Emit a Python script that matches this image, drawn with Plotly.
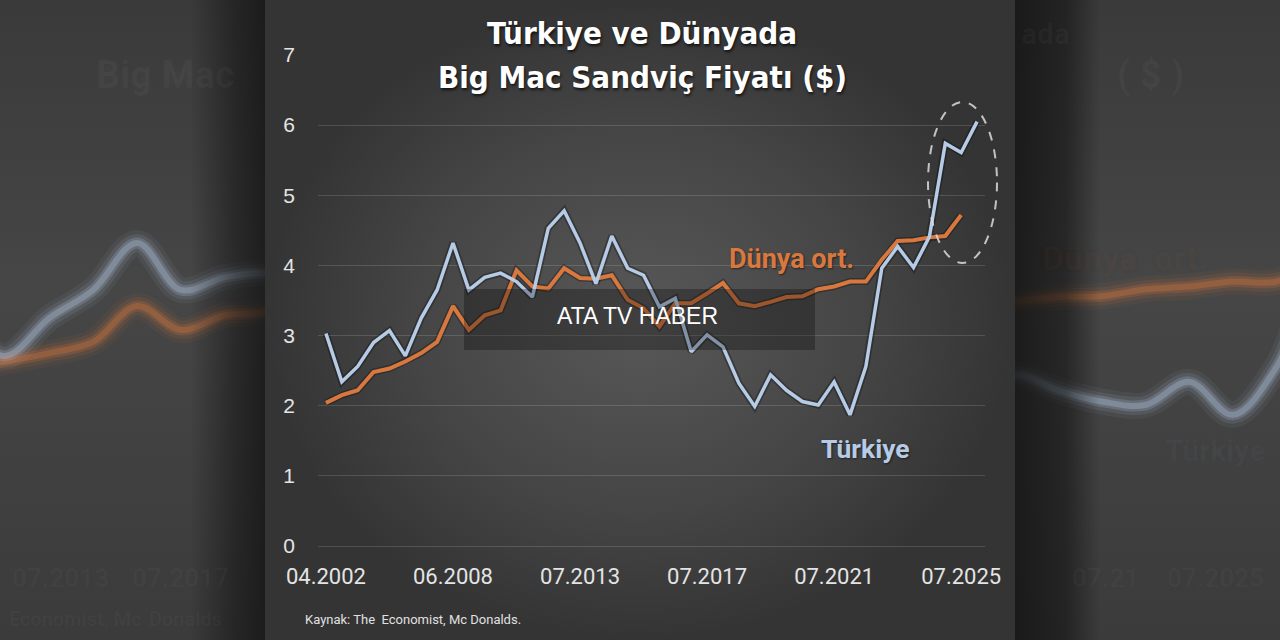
import plotly.graph_objects as go

# ---------------- data ----------------
dates = ["04.2002", "04.2003", "05.2004", "06.2005", "01.2006", "05.2006", "01.2007", "06.2007",
         "06.2008", "07.2009", "01.2010", "07.2010", "07.2011", "01.2012", "07.2012", "01.2013",
         "07.2013", "01.2014", "07.2014", "01.2015", "07.2015", "01.2016", "07.2016", "01.2017",
         "07.2017", "01.2018", "07.2018", "01.2019", "07.2019", "01.2020", "07.2020", "01.2021",
         "07.2021", "01.2022", "07.2022", "01.2023", "07.2023", "01.2024", "07.2024", "01.2025",
         "07.2025", "01.2026"]
turkiye = [3.03, 2.34, 2.56, 2.90, 3.07, 2.71, 3.25, 3.65, 4.32, 3.65, 3.83, 3.89, 3.77, 3.55,
           4.53, 4.78, 4.32, 3.74, 4.42, 3.96, 3.86, 3.41, 3.53, 2.77, 3.01, 2.84, 2.32, 1.99,
           2.44, 2.22, 2.06, 2.01, 2.34, 1.87, 2.56, 3.96, 4.27, 3.97, 4.41, 5.74, 5.61, 6.05]
dunya = [2.04, 2.15, 2.22, 2.48, 2.53, 2.63, 2.75, 2.91, 3.42, 3.08, 3.29, 3.36, 3.93, 3.70,
         3.67, 3.96, 3.82, 3.81, 3.86, 3.51, 3.39, 3.13, 3.46, 3.46, 3.60, 3.75, 3.46, 3.42,
         3.48, 3.55, 3.56, 3.66, 3.70, 3.77, 3.77, 4.08, 4.35, 4.36, 4.40, 4.42, 4.72, None]
tick_labels = ["04.2002", "06.2008", "07.2013", "07.2017", "07.2021", "07.2025"]
y_ticks = [0, 1, 2, 3, 4, 5, 6, 7]

BLUE = "#b5cbe6"
ORANGE = "#d8783f"

W, H = 1280, 640
fig = go.Figure()


def px_axes(xname, yname):
    return (dict(domain=[0, 1], range=[0, W], visible=False, fixedrange=True, anchor=yname, automargin=False),
            dict(domain=[0, 1], range=[H, 0], visible=False, fixedrange=True, anchor=xname, automargin=False))


# ---- subplot 1: backdrop base (pixel coords) ----
fig.add_trace(go.Scatter(x=[0, 1280, 1280, 0, 0], y=[0, 0, 640, 640, 0], mode="lines",
                         line=dict(width=0), fill="toself",
                         fillgradient=dict(type="vertical", colorscale=[[0, "#3b3b3b"], [0.55, "#464646"], [1, "#3a3a3a"]]),
                         hoverinfo="skip", showlegend=False, xaxis="x", yaxis="y"))

# ---- subplot 2: blurred, stretched copy of the chart behind ----
for w, op in [(26, 0.06), (18, 0.10), (11, 0.2), (6, 0.3)]:
    fig.add_trace(go.Scatter(x=dates, y=dunya, mode="lines", line=dict(color=ORANGE, width=w, shape="spline", smoothing=1.0),
                             opacity=op, hoverinfo="skip", showlegend=False, xaxis="x2", yaxis="y2"))
    fig.add_trace(go.Scatter(x=dates, y=turkiye, mode="lines", line=dict(color=BLUE, width=w, shape="spline", smoothing=1.0),
                             opacity=op, hoverinfo="skip", showlegend=False, xaxis="x2", yaxis="y2"))

# ---- subplot 3: dark bands + central panel (pixel coords) ----
fig.add_trace(go.Scatter(x=[190, 265, 265, 190, 190], y=[0, 0, 640, 640, 0], mode="lines", line=dict(width=0),
                         fill="toself",
                         fillgradient=dict(type="horizontal", colorscale=[[0, "rgba(20,20,20,0)"], [0.6, "rgba(20,20,20,0.55)"], [1, "rgba(20,20,20,0.8)"]]),
                         hoverinfo="skip", showlegend=False, xaxis="x3", yaxis="y3"))
fig.add_trace(go.Scatter(x=[1015, 1100, 1100, 1015, 1015], y=[0, 0, 640, 640, 0], mode="lines", line=dict(width=0),
                         fill="toself",
                         fillgradient=dict(type="horizontal", colorscale=[[0, "rgba(20,20,20,0.85)"], [0.6, "rgba(20,20,20,0.6)"], [1, "rgba(20,20,20,0)"]]),
                         hoverinfo="skip", showlegend=False, xaxis="x3", yaxis="y3"))
fig.add_trace(go.Scatter(x=[265, 1015, 1015, 265, 265], y=[0, 0, 640, 640, 0], mode="lines", line=dict(width=0),
                         fill="toself",
                         fillgradient=dict(type="radial", colorscale=[[0, "#585858"], [0.6, "#454545"], [1, "#343434"]]),
                         hoverinfo="skip", showlegend=False, xaxis="x3", yaxis="y3"))

# ---- subplot 4: main chart ----
for series in (dunya, turkiye):
    fig.add_trace(go.Scatter(x=dates, y=series, mode="lines", line=dict(color="rgba(0,0,0,0.28)", width=7),
                             hoverinfo="skip", showlegend=False, xaxis="x4", yaxis="y4"))
fig.add_trace(go.Scatter(x=dates, y=dunya, mode="lines", name="Dünya ort.", line=dict(color=ORANGE, width=4),
                         showlegend=False, xaxis="x4", yaxis="y4"))
fig.add_trace(go.Scatter(x=dates, y=turkiye, mode="lines", name="Türkiye", line=dict(color=BLUE, width=3.5),
                         showlegend=False, xaxis="x4", yaxis="y4"))

xa1, ya1 = px_axes("x", "y")
xa3, ya3 = px_axes("x3", "y3")
y_dom = [(H - 546) / H, (H - 55) / H]

fig.update_layout(
    width=W, height=H, autosize=False,
    margin=dict(l=0, r=0, t=0, b=0, pad=0),
    paper_bgcolor="#3a3a3a", plot_bgcolor="rgba(0,0,0,0)",
    showlegend=False,
    xaxis=xa1, yaxis=ya1,
    xaxis2=dict(domain=[0, 1], range=[4.875, 34.07], type="category", categoryorder="array", categoryarray=dates,
                visible=False, fixedrange=True, anchor="y2", automargin=False),
    yaxis2=dict(domain=y_dom, range=[0, 7], visible=False, fixedrange=True, anchor="x2", automargin=False),
    xaxis3=xa3, yaxis3=ya3,
    xaxis4=dict(domain=[318 / W, 985 / W], range=[-0.5, 41.5], type="category", categoryorder="array",
                categoryarray=dates, tickmode="array", tickvals=tick_labels, ticktext=tick_labels,
                showgrid=False, zeroline=False, showline=False, ticks="", anchor="y4", automargin=False,
                tickfont=dict(family="Roboto", size=22, color="#e4e4e4"), ticklabelstandoff=15,
                fixedrange=True),
    yaxis4=dict(domain=y_dom, range=[0, 7], tickmode="array", tickvals=y_ticks, anchor="x4", automargin=False,
                showgrid=True, gridcolor="rgba(255,255,255,0.14)", gridwidth=1,
                zeroline=True, zerolinecolor="rgba(255,255,255,0.14)", zerolinewidth=1,
                showline=False, ticks="",
                tickfont=dict(family="Liberation Sans", size=21, color="#e4e4e4"), ticklabelstandoff=22,
                fixedrange=True),
)

shapes = [
    # watermark box
    dict(type="rect", xref="x", yref="y", x0=464, x1=815, y0=289, y1=350,
         fillcolor="rgba(0,0,0,0.28)", line=dict(width=0), layer="above"),
    # dashed ellipse highlighting the recent jump
    dict(type="circle", xref="x", yref="y", x0=928, x1=997, y0=102, y1=263,
         line=dict(color="rgba(220,220,220,0.85)", width=2, dash="dash"), layer="above"),
]
fig.update_layout(shapes=shapes)

ann = []
# heavily blurred fragments of the stretched backdrop copy
for txt, x, y, size, rgb, a in [
    ("Big Mac", 165, 75, 38, "235,235,235", 0.75),
    ("ada", 1045, 33, 30, "235,235,235", 0.6),
    ("( $ )", 1150, 75, 38, "235,235,235", 0.75),
    ("Dünya  ort.", 1125, 258, 34, "216,120,63", 0.8),
    ("Türkiye", 1215, 450, 30, "181,203,230", 0.7),
    ("07.2013", 60, 578, 26, "220,220,220", 0.6),
    ("07.2017", 180, 578, 26, "220,220,220", 0.6),
    ("07.21", 1105, 578, 26, "220,220,220", 0.6),
    ("07.2025", 1215, 578, 26, "220,220,220", 0.6),
    ("Economist, Mc", 75, 619, 20, "220,220,220", 0.45),
    ("Donalds", 185, 619, 20, "220,220,220", 0.45),
]:
    ann.append(dict(text=txt, x=x, y=y, xref="x", yref="y", showarrow=False, xanchor="center", yanchor="middle",
                    font=dict(family="Roboto", size=size, color=f"rgba({rgb},0.03)", weight="bold",
                              shadow=f"0 0 9px rgba({rgb},{a}), 0 0 14px rgba({rgb},{a * 0.7})")))

title_font = dict(family="DejaVu Sans Condensed", size=31, color="#ffffff", weight="bold",
                  shadow="1px 2px 3px rgba(0,0,0,0.7)")
ann += [
    dict(text="Türkiye ve Dünyada", x=642, y=33, xref="x", yref="y", showarrow=False,
         xanchor="center", yanchor="middle", font=title_font),
    dict(text="Big Mac Sandviç Fiyatı ($)", x=642, y=77, xref="x", yref="y", showarrow=False,
         xanchor="center", yanchor="middle", font=title_font),
    dict(text="Dünya ort.", x=791, y=259, xref="x", yref="y", showarrow=False, xanchor="center", yanchor="middle",
         font=dict(family="Roboto", size=27, color=ORANGE, weight="bold", shadow="1px 1px 2px rgba(0,0,0,0.5)")),
    dict(text="Türkiye", x=865, y=448, xref="x", yref="y", showarrow=False, xanchor="center", yanchor="middle",
         font=dict(family="Roboto", size=26.5, color=BLUE, weight="bold", shadow="1px 1px 2px rgba(0,0,0,0.5)")),
    dict(text="ATA TV HABER", x=637.5, y=316, xref="x", yref="y", showarrow=False, xanchor="center", yanchor="middle",
         font=dict(family="Liberation Sans", size=23, color="#ffffff")),
    dict(text="Kaynak: The\u00a0 Economist, Mc Donalds.", x=303, y=619, xref="x", yref="y", showarrow=False,
         xanchor="left", yanchor="middle", font=dict(family="Roboto", size=13, color="#e0e0e0")),
]
fig.update_layout(annotations=ann)

fig.write_html("out.html", config={"displayModeBar": False})
